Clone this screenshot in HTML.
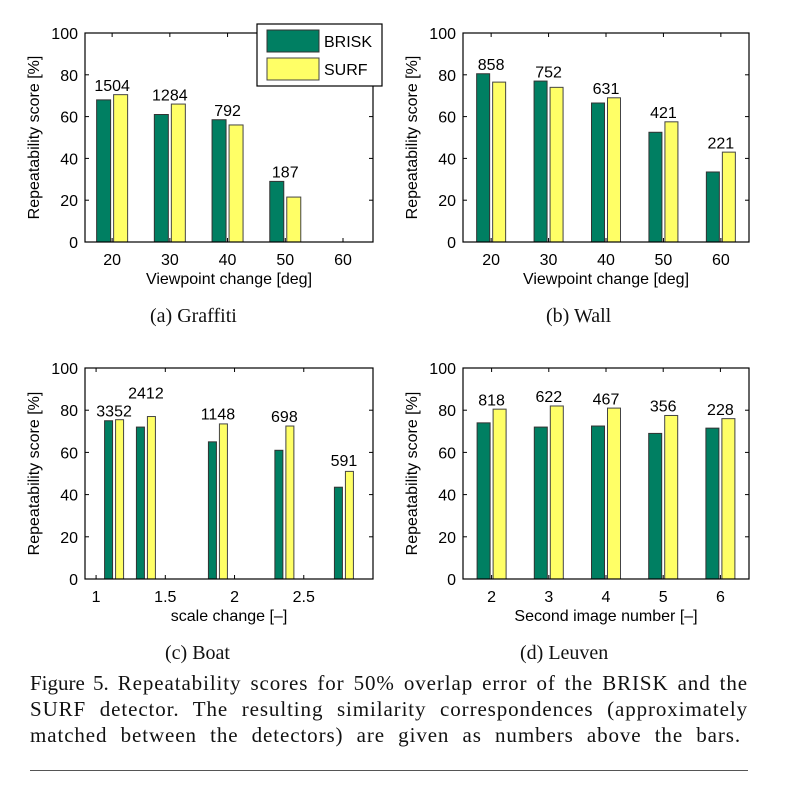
<!DOCTYPE html>
<html><head><meta charset="utf-8"><style>
body{margin:0;background:#fff;width:788px;height:798px;overflow:hidden;position:relative;font-family:"Liberation Serif",serif}
svg{position:absolute;left:0;top:0}
.cap{position:absolute;font-size:20px;color:#111}
#fig{position:absolute;left:30px;top:670px;width:718px;font-size:21px;letter-spacing:0.9px;line-height:26px;color:#111}
#fig div{text-align:justify;text-align-last:justify;white-space:nowrap}
#fig div.last{width:711px}
#rule{position:absolute;left:30px;top:770px;width:718px;height:1px;background:#555}
</style></head><body>
<svg id="chart" width="788" height="798"></svg>
<div class="cap" style="left:150px;top:305px">(a) Graffiti</div>
<div class="cap" style="left:546px;top:305px">(b) Wall</div>
<div class="cap" style="left:165px;top:642px">(c) Boat</div>
<div class="cap" style="left:520px;top:642px">(d) Leuven</div>
<div id="fig">
<div><span style="font-size:21px;letter-spacing:0">Figure 5.</span> Repeatability scores for 50% overlap error of the BRISK and the</div>
<div>SURF detector. The resulting similarity correspondences (approximately</div>
<div class="last">matched between the detectors) are given as numbers above the bars.</div>
</div>
<div id="rule"></div>
<script>
const catsA=[20,30,40,50,60];
const briskA=[68,61,58.5,29,0];
const surfA=[70.5,66,56,21.5,0];
const labelsA=["1504","1284","792","187",""];
const catsB=[20,30,40,50,60];
const briskB=[80.5,77,66.5,52.5,33.5];
const surfB=[76.5,74,69,57.5,43];
const labelsB=["858","752","631","421","221"];
const catsC=[1.13,1.36,1.88,2.36,2.79];
const briskC=[75,72,65,61,43.5];
const surfC=[75.5,77,73.5,72.5,51];
const labelsC=["3352","2412","1148","698","591"];
const labelLevelC=[77,85.5,75.5,74.5,53.5];
const ticksC=[1,1.5,2,2.5];
const catsD=[2,3,4,5,6];
const briskD=[74,72,72.5,69,71.5];
const surfD=[80.5,82,81,77.5,76];
const labelsD=["818","622","467","356","228"];
const yTicks=[0,20,40,60,80,100];

const NS="http://www.w3.org/2000/svg";
const svg=document.getElementById('chart');
const FF='Liberation Sans, sans-serif';
function mk(t,a,p){const e=document.createElementNS(NS,t);for(const k in a)e.setAttribute(k,a[k]);(p||svg).appendChild(e);return e;}

function panel(name,L,R,T,B,dom,cats,brisk,surf,labels,ticks,xtitle,bw,levels){
  const g=mk('g',{});
  
  
  const xs=v=>L+(v-dom[0])/(dom[1]-dom[0])*(R-L);
  const ys=v=>B-v/100*(B-T);
  cats.forEach((c,i)=>{
    const cx=xs(c);
    const b=mk('rect',{x:cx-bw-1.5,y:ys(brisk[i]),width:bw,height:B-ys(brisk[i]),fill:'#007f62',stroke:'#333','stroke-width':1},g);
    
    
    const s=mk('rect',{x:cx+1.5,y:ys(surf[i]),width:bw,height:B-ys(surf[i]),fill:'#ffff66',stroke:'#444','stroke-width':1},g);
    
    
    if(labels[i]){
      const lv=levels?levels[i]:Math.max(brisk[i],surf[i])+1.8;
      const t=mk('text',{x:cx,y:ys(lv),'text-anchor':'middle','font-size':16,'font-family':FF},g);
      t.textContent=labels[i];
      
      
    }
  });
  const fr=mk('rect',{x:L,y:T,width:R-L,height:B-T,fill:'none',stroke:'#000','stroke-width':1.2},g);
  
  
  yTicks.forEach(v=>{
    const y=ys(v);
    mk('line',{x1:L,x2:L+4,y1:y,y2:y,stroke:'#000'},g);
    mk('line',{x1:R,x2:R-4,y1:y,y2:y,stroke:'#000'},g);
    const t=mk('text',{x:L-7,y:y+6,'text-anchor':'end','font-size':16,'font-family':FF},g);
    t.textContent=v;
    
    
  });
  ticks.forEach(v=>{
    const x=xs(v);
    mk('line',{x1:x,x2:x,y1:B,y2:B-4,stroke:'#000'},g);
    mk('line',{x1:x,x2:x,y1:T,y2:T+4,stroke:'#000'},g);
    const t=mk('text',{x:x,y:B+23,'text-anchor':'middle','font-size':16,'font-family':FF},g);
    t.textContent=v;
    
    
  });
  const xt=mk('text',{x:(L+R)/2,y:B+42,'text-anchor':'middle','font-size':16,'font-family':FF},g);
  xt.textContent=xtitle;
  
  
  const yc=(T+B)/2;
  const yt=mk('text',{x:L-46,y:yc,'text-anchor':'middle','font-size':16,'font-family':FF,transform:`rotate(-90 ${L-46} ${yc})`},g);
  yt.textContent='Repeatability score [%]';
  
  
}
panel('chart-graffiti',85,373,33,242,[15.3,65.2],catsA,briskA,surfA,labelsA,catsA,'Viewpoint change [deg]',14);
panel('chart-wall',463,749,33,242,[15.1,64.9],catsB,briskB,surfB,labelsB,catsB,'Viewpoint change [deg]',13);
panel('chart-boat',85,373,368,579,[0.92,3.0],catsC,briskC,surfC,labelsC,ticksC,'scale change [–]',8,labelLevelC);
panel('chart-leuven',463,749,368,579,[1.5,6.5],catsD,briskD,surfD,labelsD,catsD,'Second image number [–]',13);

const lg=mk('g',{});


mk('rect',{x:257,y:24,width:125,height:62,fill:'#fff',stroke:'#000','stroke-width':1.2},lg);
const e1=mk('rect',{x:267,y:30,width:52,height:22,fill:'#007f62',stroke:'#333'},lg);


const e2=mk('rect',{x:267,y:58,width:52,height:22,fill:'#ffff66',stroke:'#444'},lg);


const t1=mk('text',{x:324,y:47,'font-size':16,'font-family':FF},lg);t1.textContent='BRISK';


const t2=mk('text',{x:324,y:75,'font-size':16,'font-family':FF},lg);t2.textContent='SURF';


</script>
</body></html>
